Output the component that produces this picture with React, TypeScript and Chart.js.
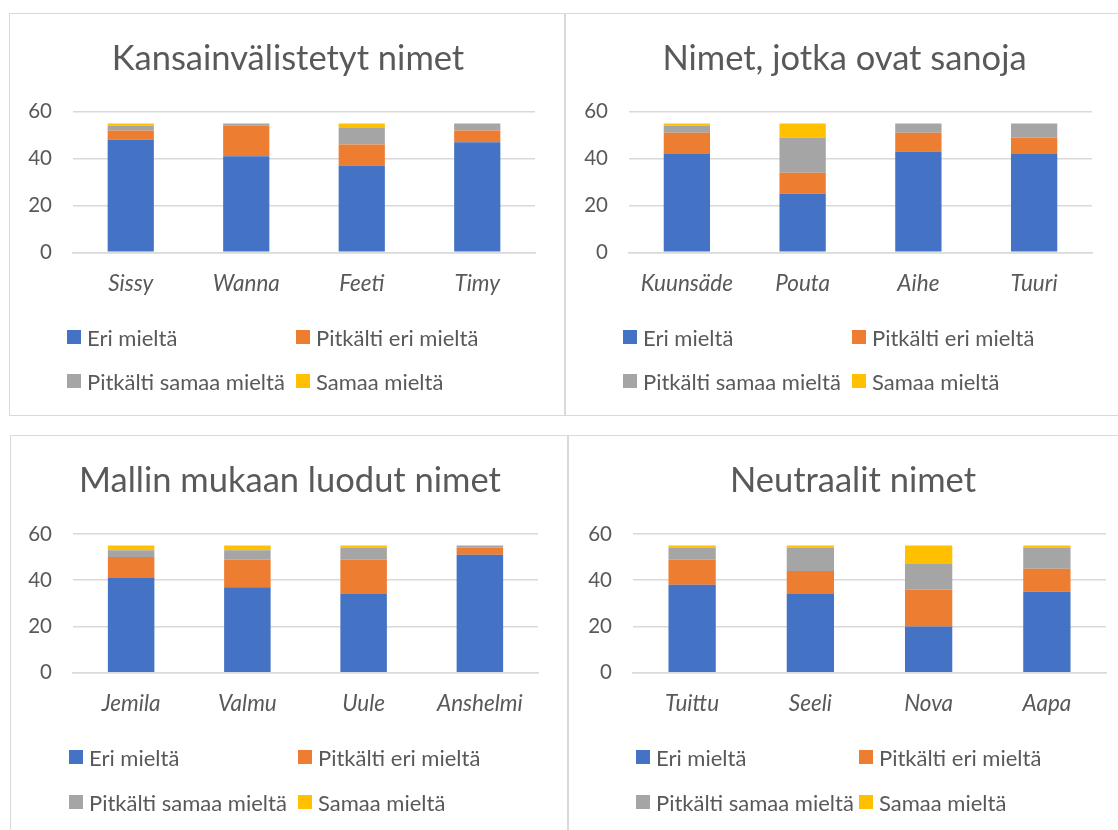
import React, { useEffect, useRef } from "react";
import { Chart, registerables } from "chart.js";

Chart.register(...registerables);

const FONT = "Lato, 'Open Sans', sans-serif";
const TEXT_COLOR = "#595959";
const GRID_COLOR = "#d9d9d9";

const SERIES_NAMES = ["Eri mieltä", "Pitkälti eri mieltä", "Pitkälti samaa mieltä", "Samaa mieltä"];
const SERIES_COLORS = ["#4472C4", "#ED7D31", "#A5A5A5", "#FFC000"];
const Y_MIN = 0;
const Y_MAX = 60;
const Y_STEP = 20;

// Panel 1: Kansainvälistetyt nimet
const titleA = "Kansainvälistetyt nimet";
const catsA = ["Sissy", "Wanna", "Feeti", "Timy"];
const eriA = [48, 41, 37, 47];
const pitEriA = [4, 13, 9, 5];
const pitSamaaA = [2, 1, 7, 3];
const samaaA = [1, 0, 2, 0];

// Panel 2: Nimet, jotka ovat sanoja
const titleB = "Nimet, jotka ovat sanoja";
const catsB = ["Kuunsäde", "Pouta", "Aihe", "Tuuri"];
const eriB = [42, 25, 43, 42];
const pitEriB = [9, 9, 8, 7];
const pitSamaaB = [3, 15, 4, 6];
const samaaB = [1, 6, 0, 0];

// Panel 3: Mallin mukaan luodut nimet
const titleC = "Mallin mukaan luodut nimet";
const catsC = ["Jemila", "Valmu", "Uule", "Anshelmi"];
const eriC = [41, 37, 34, 51];
const pitEriC = [9, 12, 15, 3];
const pitSamaaC = [3, 4, 5, 1];
const samaaC = [2, 2, 1, 0];

// Panel 4: Neutraalit nimet
const titleD = "Neutraalit nimet";
const catsD = ["Tuittu", "Seeli", "Nova", "Aapa"];
const eriD = [38, 34, 20, 35];
const pitEriD = [11, 10, 16, 10];
const pitSamaaD = [5, 10, 11, 9];
const samaaD = [1, 1, 8, 1];

type Geom = {
  left: number;
  top: number;
  width: number;
  height: number;
  plotLeft: number;
  plotTop: number;
  plotBottom: number;
  plotRightPad: number;
  legendX1: number;
  legendX2: number;
  legendY1: number;
  legendY2: number;
};

const PANELS: { title: string; cats: string[]; series: number[][]; geom: Geom }[] = [
  {
    title: titleA,
    cats: catsA,
    series: [eriA, pitEriA, pitSamaaA, samaaA],
    geom: { left: 9, top: 13, width: 556, height: 403, plotLeft: 64, plotTop: 98.7, plotBottom: 239.3, plotRightPad: 30, legendX1: 57, legendX2: 286, legendY1: 323, legendY2: 367 },
  },
  {
    title: titleB,
    cats: catsB,
    series: [eriB, pitEriB, pitSamaaB, samaaB],
    geom: { left: 565, top: 13, width: 557, height: 403, plotLeft: 64, plotTop: 98.7, plotBottom: 239.3, plotRightPad: 30, legendX1: 57, legendX2: 286, legendY1: 323, legendY2: 367 },
  },
  {
    title: titleC,
    cats: catsC,
    series: [eriC, pitEriC, pitSamaaC, samaaC],
    geom: { left: 10, top: 435, width: 558, height: 403, plotLeft: 63, plotTop: 99, plotBottom: 237.7, plotRightPad: 30, legendX1: 58, legendX2: 287, legendY1: 321, legendY2: 366 },
  },
  {
    title: titleD,
    cats: catsD,
    series: [eriD, pitEriD, pitSamaaD, samaaD],
    geom: { left: 568, top: 435, width: 568, height: 403, plotLeft: 65, plotTop: 99, plotBottom: 237.7, plotRightPad: 30, legendX1: 67, legendX2: 290, legendY1: 321, legendY2: 366 },
  },
];

function Panel({ title, cats, series, geom }: { title: string; cats: string[]; series: number[][]; geom: Geom }) {
  const ref = useRef<HTMLCanvasElement | null>(null);

  useEffect(() => {
    if (!ref.current) return;
    const xAxisHeight = 60;
    const chart = new Chart(ref.current, {
      type: "bar",
      data: {
        labels: cats,
        datasets: series.map((vals, i) => ({
          label: SERIES_NAMES[i],
          data: vals,
          backgroundColor: SERIES_COLORS[i],
          borderWidth: 0,
          barPercentage: 0.4,
          categoryPercentage: 1,
        })),
      },
      options: {
        animation: false,
        responsive: false,
        maintainAspectRatio: false,
        layout: {
          padding: {
            top: geom.plotTop,
            left: 0,
            right: geom.plotRightPad,
            bottom: geom.height - geom.plotBottom - xAxisHeight,
          },
        },
        plugins: {
          legend: { display: false },
          title: { display: false },
          tooltip: { enabled: false },
        },
        scales: {
          x: {
            stacked: true,
            grid: { display: false, drawTicks: false },
            border: { display: true, color: GRID_COLOR, width: 1.5 },
            ticks: {
              color: TEXT_COLOR,
              padding: 18,
              font: { family: FONT, size: 22.5, style: "italic" },
            },
            afterFit: (scale: any) => {
              scale.height = xAxisHeight;
            },
          },
          y: {
            stacked: true,
            min: Y_MIN,
            max: Y_MAX,
            grid: { color: GRID_COLOR, lineWidth: 1.5, drawTicks: false },
            border: { display: false },
            ticks: {
              stepSize: Y_STEP,
              color: TEXT_COLOR,
              padding: 21,
              font: { family: FONT, size: 20.5 },
            },
            afterFit: (scale: any) => {
              scale.width = geom.plotLeft;
            },
          },
        },
      },
    });
    return () => chart.destroy();
  }, [cats, series, geom]);

  const legendItem = (i: number, x: number, y: number) => (
    <div
      key={i}
      style={{
        position: "absolute",
        left: x,
        top: y - 14,
        height: 28,
        display: "flex",
        alignItems: "center",
        whiteSpace: "nowrap",
        fontFamily: FONT,
        fontSize: 22,
        color: TEXT_COLOR,
      }}
    >
      <span style={{ display: "inline-block", width: 14, height: 14, background: SERIES_COLORS[i], marginRight: 6 }} />
      <span>{SERIES_NAMES[i]}</span>
    </div>
  );

  return (
    <div
      style={{
        position: "absolute",
        left: geom.left,
        top: geom.top,
        width: geom.width,
        height: geom.height,
        boxSizing: "border-box",
        border: `1.5px solid ${GRID_COLOR}`,
        background: "#fff",
        overflow: "hidden",
      }}
    >
      <canvas
        ref={ref}
        width={geom.width}
        height={geom.height}
        style={{ position: "absolute", left: -1.5, top: -1.5, width: geom.width, height: geom.height }}
      />
      <div
        style={{
          position: "absolute",
          left: 0,
          top: 22,
          width: geom.width,
          textAlign: "center",
          fontFamily: FONT,
          fontSize: 34.5,
          lineHeight: "42px",
          color: TEXT_COLOR,
          whiteSpace: "nowrap",
        }}
      >
        {title}
      </div>
      {legendItem(0, geom.legendX1, geom.legendY1)}
      {legendItem(1, geom.legendX2, geom.legendY1)}
      {legendItem(2, geom.legendX1, geom.legendY2)}
      {legendItem(3, geom.legendX2, geom.legendY2)}
    </div>
  );
}

export default function App() {
  return (
    <div style={{ position: "fixed", left: 0, top: 0, width: 1118, height: 830, overflow: "hidden", background: "#fff" }}>
      {PANELS.map((p, i) => (
        <Panel key={i} title={p.title} cats={p.cats} series={p.series} geom={p.geom} />
      ))}
    </div>
  );
}
